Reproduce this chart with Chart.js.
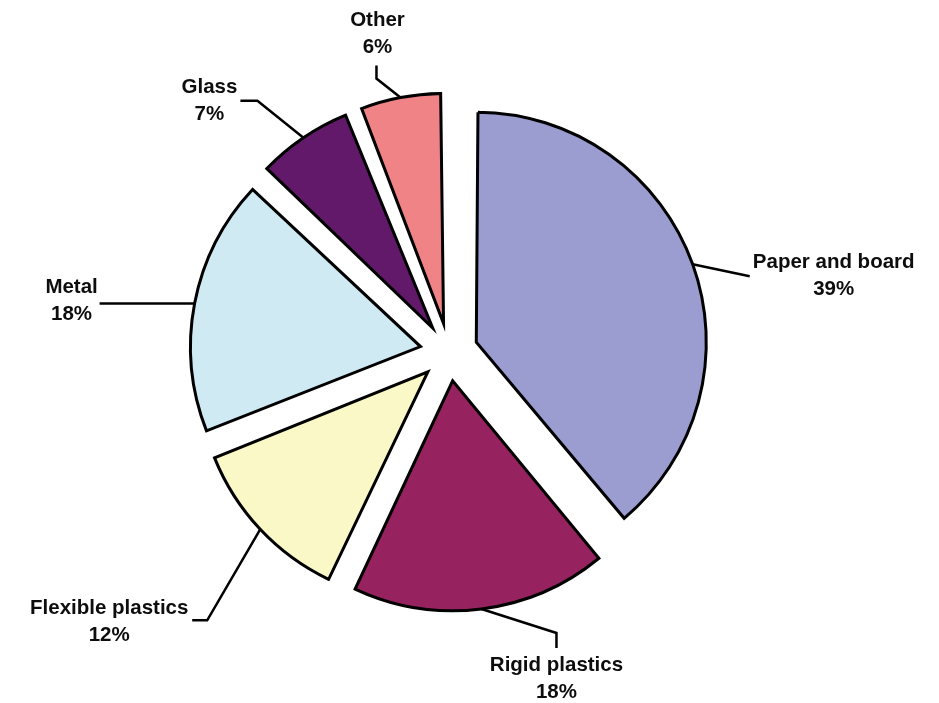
<!DOCTYPE html>
<html>
<head>
<meta charset="utf-8">
<title>Packaging waste by material</title>
<script src="https://cdn.jsdelivr.net/npm/chart.js@4.4.1/dist/chart.umd.min.js"></script>
<style>
    html, body { margin: 0; padding: 0; background: #fff; }
    .chart-wrapper { position: relative; width: 939px; height: 703px; }
</style>
</head>
<body>
<div class="chart-wrapper"><canvas id="wasteChart"></canvas></div>
<script>
// Material shares, clockwise from 12 o'clock
const materials = ['Paper and board', 'Rigid plastics', 'Flexible plastics', 'Metal', 'Glass', 'Other'];
const shares = [39, 18, 12, 18, 7, 6];

const sliceColors = ['#9b9dd0', '#96235f', '#f9f8c6', '#cfeaf3', '#62196a', '#ef8385'];

const PIE_RADIUS = 230;
const EXPLODE = 116; // arc element offset (drawn shift is offset / 4)

// Leader line bends and text block, relative to the point on the slice edge
// path: extra points after the edge point; text: [centre x, first baseline y]
const leaderLayout = [
    { path: [[57, 12]], text: [141, 4] },
    { path: [[75, 24], [75, 39]], text: [75, 62] },
    { path: [[-53, 91], [-68, 91]], text: [-151, 85] },
    { path: [[-95, 0]], text: [-123, -10] },
    { path: [[-46, -37], [-63, -37]], text: [-94, -45] },
    { path: [[-24, -19], [-24, -32]], text: [-23, -72] },
];

// Chart.js grows the outer radius of offset arcs; keep every slice the same size
const evenRadius = {
    id: 'evenRadius',
    beforeDatasetsDraw(chart) {
        chart.getDatasetMeta(0).data.forEach(arc => {
            const shift = (arc.options.offset || 0) / 4;
            const fix = 1 - Math.sin(Math.min(Math.PI, arc.circumference));
            arc.outerRadius = PIE_RADIUS - shift * fix;
        });
    }
};

// Leader lines and two-line labels
const sliceLabels = {
    id: 'sliceLabels',
    afterDatasetsDraw(chart) {
        const { ctx } = chart;
        chart.getDatasetMeta(0).data.forEach((arc, i) => {
            const mid = (arc.startAngle + arc.endAngle) / 2;
            const shift = (arc.options.offset || 0) / 4;
            const ex = arc.x + Math.cos(mid) * (shift + PIE_RADIUS);
            const ey = arc.y + Math.sin(mid) * (shift + PIE_RADIUS);
            const layout = leaderLayout[i];

            ctx.save();
            ctx.strokeStyle = '#000';
            ctx.lineWidth = 2.5;
            ctx.lineJoin = 'miter';
            ctx.beginPath();
            ctx.moveTo(ex, ey);
            layout.path.forEach(([dx, dy]) => ctx.lineTo(ex + dx, ey + dy));
            ctx.stroke();

            ctx.fillStyle = '#0d0d0d';
            ctx.font = 'bold 20.5px "Liberation Sans", Arial, sans-serif';
            ctx.textAlign = 'center';
            ctx.textBaseline = 'alphabetic';
            const tx = ex + layout.text[0];
            const ty = ey + layout.text[1];
            ctx.fillText(materials[i], tx, ty);
            ctx.fillText(`${shares[i]}%`, tx, ty + 27);
            ctx.restore();
        });
    }
};

new Chart(document.getElementById('wasteChart'), {
    type: 'pie',
    data: {
        labels: materials,
        datasets: [{
            data: shares,
            backgroundColor: sliceColors,
            borderColor: '#000',
            borderWidth: 3,
            borderJoinStyle: 'miter',
            offset: EXPLODE,
            radius: PIE_RADIUS
        }]
    },
    options: {
        responsive: true,
        maintainAspectRatio: false,
        animation: false,
        layout: { padding: { left: 0, right: 41, top: 1, bottom: 0 } },
        plugins: {
            legend: { display: false },
            tooltip: { enabled: false }
        }
    },
    plugins: [evenRadius, sliceLabels]
});
</script>
</body>
</html>
